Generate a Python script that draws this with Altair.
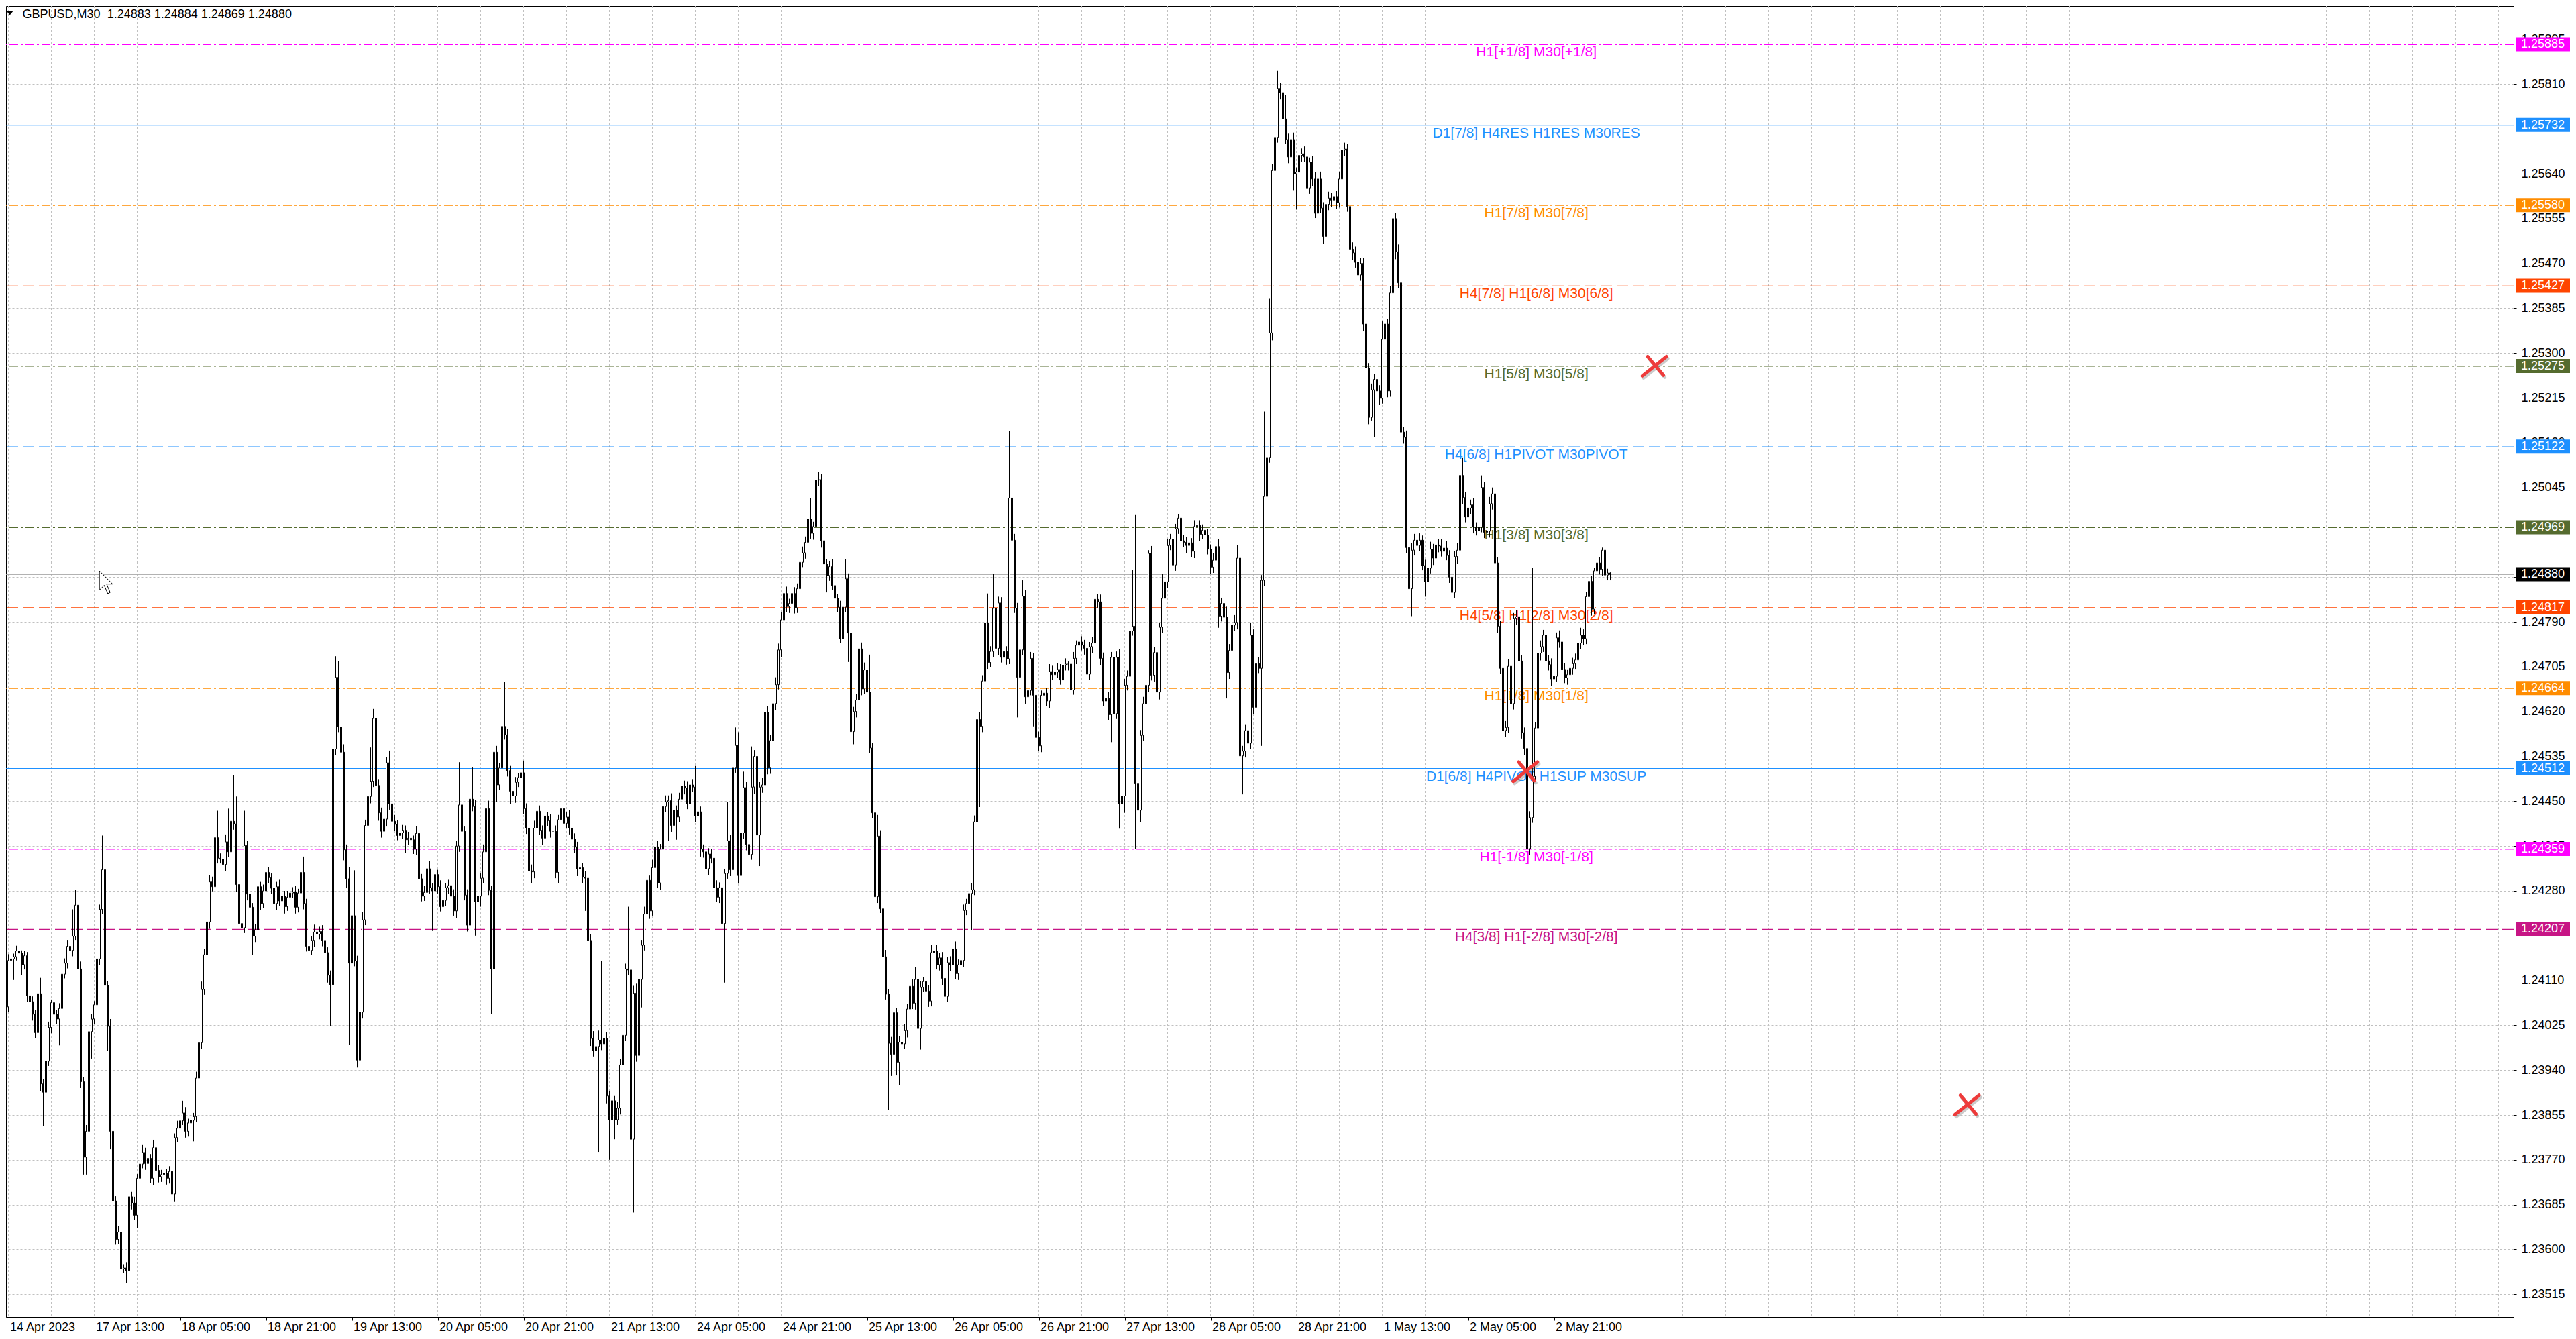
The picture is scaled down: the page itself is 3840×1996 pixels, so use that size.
import json
import altair as alt
import pandas as pd

# ---------------- data (prices in 1e-5 units above 1.20000) ----------------
first_open = 4060

close_a = [
4148, 4151, 4155, 4166, 4162, 4140, 4157, 4081, 4070, 4046,
4011, 4085, 3914, 3898, 3957, 4021, 4068, 4046, 4037, 4057,
4122, 4143, 4175, 4167, 4194, 4253, 4132, 3918, 3775, 3824,
4013, 4037, 4064, 4151, 4245, 4320, 4101, 4023, 3824, 3692,
3619, 3633, 3563, 3565, 3560, 3700, 3688, 3665, 3735, 3762,
3784, 3763, 3773, 3735, 3793, 3750, 3738, 3742, 3745, 3735,
3748, 3705, 3812, 3830, 3844, 3859, 3824, 3840, 3845, 3852,
3925, 3992, 4093, 4159, 4221, 4297, 4288, 4381, 4342, 4340,
4330, 4373, 4354, 4412, 4407, 4292, 4218, 4210, 4366, 4274,
4249, 4194, 4206, 4288, 4256, 4280, 4315, 4305, 4285, 4256,
4288, 4261, 4270, 4250, 4268, 4276, 4278, 4249, 4276, 4315,
4256, 4175, 4167, 4186, 4202, 4198, 4203, 4186, 4163, 4120,
4102, 4549, 4685, 4591, 4543, 4358, 4303, 4143, 4233, 4147,
3959, 4050, 4225, 4404, 4459, 4488, 4607, 4480, 4428, 4393,
4416, 4523, 4445, 4412, 4406, 4385, 4390, 4395, 4377, 4380,
4377, 4359, 4389, 4303]
up_a = [
12, 8, 6, 10, 24, 5, 9, 7, 6, 10,
8, 12, 30, 9, 7, 11, 6, 9, 8, 10,
7, 9, 12, 8, 51, 29, 11, 14, 9, 12,
8, 10, 7, 12, 9, 65, 11, 8, 14, 10,
9, 12, 8, 7, 11, 18, 9, 12, 8, 10,
14, 9, 12, 8, 15, 7, 10, 9, 12, 8,
10, 9, 8, 14, 9, 23, 11, 8, 10, 7,
12, 9, 15, 11, 8, 13, 10, 62, 51, 9,
12, 14, 63, 74, 88, 52, 10, 12, 66, 9,
14, 8, 11, 15, 9, 12, 5, 10, 8, 11,
9, 13, 8, 10, 12, 7, 9, 11, 8, 12,
30, 9, 11, 8, 14, 10, 9, 12, 8, 10,
9, 14, 40, 31, 12, 15, 10, 22, 14, 86,
10, 12, 15, 11, 9, 64, 18, 136, 12, 10,
15, 11, 23, 9, 12, 8, 11, 10, 9, 12,
10, 8, 14, 9]
dn_a = [
10, 8, 40, 7, 12, 20, 9, 11, 8, 12,
10, 9, 14, 64, 12, 9, 11, 8, 10, 50,
12, 8, 10, 9, 11, 7, 14, 12, 33, 33,
9, 51, 10, 8, 11, 9, 20, 47, 34, 12,
10, 9, 14, 8, 24, 10, 12, 9, 24, 11,
8, 12, 10, 9, 13, 8, 11, 10, 9, 12,
10, 27, 15, 9, 11, 8, 12, 10, 9, 40,
11, 9, 12, 10, 8, 13, 9, 11, 10, 8,
77, 12, 10, 9, 11, 14, 55, 86, 10, 12,
9, 35, 11, 10, 12, 9, 14, 10, 11, 8,
12, 9, 10, 13, 8, 11, 9, 12, 10, 9,
11, 10, 70, 9, 12, 8, 10, 11, 9, 14,
79, 15, 12, 10, 14, 20, 18, 155, 12, 10,
14, 34, 12, 10, 9, 13, 11, 10, 15, 12,
9, 14, 11, 10, 12, 9, 13, 11, 25, 10,
12, 9, 11, 10]

close_b = [
4270, 4277, 4322, 4286, 4280, 4311, 4288, 4250, 4262, 4286,
4290, 4270, 4242, 4365, 4443, 4393, 4272, 4215, 4454, 4440,
4259, 4270, 4304, 4354, 4436, 4281, 4132, 4543, 4481, 4513,
4592, 4576, 4508, 4469, 4460, 4486, 4495, 4504, 4436, 4399,
4318, 4316, 4399, 4431, 4395, 4380, 4422, 4413, 4393, 4393,
4315, 4415, 4436, 4408, 4420, 4399, 4378, 4363, 4322, 4324,
4306, 4304, 4186, 4000, 3977, 3985, 3997, 3990, 4000, 3891,
3846, 3882, 3846, 3868, 3950, 4006, 4132, 4130, 3809, 4086,
3968, 4112, 4177, 4236, 4300, 4242, 4324, 4363, 4295, 4359,
4440, 4449, 4451, 4404, 4433, 4420, 4454, 4479, 4475, 4445,
4481, 4477, 4422, 4430, 4359, 4354, 4322, 4350, 4342, 4286,
4268, 4286, 4218, 4313, 4375, 4320, 4513, 4556, 4309, 4390,
4476, 4368, 4349, 4477, 4535, 4386, 4477, 4481, 4619, 4513,
4565, 4635, 4671, 4737, 4794, 4844, 4819, 4825, 4844, 4817,
4853, 4903, 4921, 4941, 4985, 4958, 4971, 5059, 5060, 4944]
up_b = [
9, 12, 10, 14, 8, 11, 9, 12, 10, 8,
11, 9, 13, 10, 81, 12, 9, 11, 14, 60,
12, 10, 9, 14, 11, 15, 9, 18, 12, 10,
73, 84, 11, 9, 12, 10, 8, 13, 23, 10,
9, 12, 14, 10, 11, 9, 13, 8, 12, 10,
11, 9, 12, 27, 10, 13, 9, 11, 10, 12,
9, 11, 10, 12, 14, 30, 18, 150, 40, 12,
10, 14, 9, 12, 11, 15, 10, 118, 12, 14,
18, 12, 10, 14, 11, 9, 15, 52, 12, 10,
41, 12, 10, 14, 11, 9, 12, 41, 10, 13,
9, 11, 40, 12, 10, 9, 13, 11, 10, 12,
14, 10, 12, 9, 74, 11, 13, 34, 25, 12,
30, 11, 10, 77, 12, 19, 10, 14, 75, 12,
11, 10, 14, 12, 15, 10, 13, 9, 11, 12,
10, 14, 12, 11, 13, 40, 9, 12, 15, 11]
dn_b = [
10, 9, 12, 11, 76, 10, 13, 9, 30, 11,
12, 10, 9, 14, 11, 13, 10, 12, 61, 9,
64, 11, 20, 10, 12, 9, 85, 11, 32, 10,
12, 9, 11, 24, 10, 13, 9, 12, 10, 11,
23, 21, 12, 10, 9, 13, 11, 10, 12, 9,
11, 20, 10, 13, 9, 12, 10, 11, 14, 10,
12, 62, 10, 14, 11, 40, 200, 12, 10, 14,
76, 11, 37, 10, 12, 9, 11, 10, 69, 139,
12, 14, 53, 10, 11, 15, 9, 12, 10, 13,
11, 10, 74, 12, 9, 43, 10, 11, 12, 10,
64, 9, 12, 10, 14, 11, 9, 12, 10, 13,
9, 11, 73, 112, 10, 12, 11, 9, 14, 10,
12, 11, 86, 10, 13, 9, 59, 11, 10, 12,
11, 10, 12, 9, 13, 11, 10, 12, 36, 11,
10, 12, 9, 11, 14, 10, 12, 9, 11, 13]

close_c = [
4900, 4878, 4895, 4859, 4835, 4818, 4758, 4818, 4872, 4769,
4582, 4620, 4642, 4739, 4663, 4699, 4657, 4551, 4428, 4269,
4384, 4246, 4155, 4084, 3991, 3970, 4049, 3955, 3993, 3990,
4015, 4056, 4099, 4067, 4112, 4019, 4097, 4108, 4090, 4071,
4163, 4166, 4140, 4153, 4114, 4080, 4144, 4140, 4170,
4123, 4140, 4148, 4243, 4256, 4275, 4282, 4411, 4605, 4592,
4678, 4788, 4713, 4734, 4816, 4740, 4826, 4723, 4734, 4720,
5025, 4945, 4816, 4685, 4737, 4839, 4648, 4660, 4721, 4651,
4571, 4555, 4651, 4655, 4640, 4696, 4690, 4695, 4700, 4680,
4708, 4710, 4710, 4661, 4721, 4746, 4752, 4746, 4740,
4691, 4743, 4750, 4833, 4828, 4721, 4640, 4645, 4614, 4723,
4616, 4723, 4445, 4460, 4670, 4687, 4773, 4782, 4484, 4433,
4575, 4635, 4670, 4920, 4689, 4732, 4657, 4780, 4835, 4866,
4935, 4947, 4898, 4967, 4987, 4944, 4941, 4935, 4940, 4924,
4971, 4973, 4956, 4964, 4955, 4928, 4894, 4907, 4933, 4801,
4825]
up_c = [
12, 9, 11, 14, 10, 8, 12, 9, 37, 10,
13, 9, 11, 10, 12, 14, 90, 71, 10, 12,
40, 11, 9, 13, 10, 12, 14, 9, 11, 10,
12, 9, 11, 13, 24, 10, 12, 9, 14, 11,
14, 10, 12, 9, 11, 13, 10, 12, 9, 14,
10, 12, 11, 9, 35, 13, 12, 10, 14, 11,
12, 56, 10, 65, 19, 12, 11, 14, 10, 127,
15, 12, 10, 170, 30, 11, 14, 12, 10, 13,
11, 9, 12, 10, 14, 11, 9, 12, 10, 13,
11, 5, 10, 12, 9, 14, 11, 10, 13, 9,
12, 48, 10, 14, 11, 9, 12, 10, 13, 11,
15, 10, 12, 11, 14, 107, 212, 12, 10, 13,
11, 6, 14, 10, 12, 9, 46, 11, 13, 10,
12, 9, 8, 14, 11, 10, 13, 9, 12, 26,
10, 11, 74, 12, 9, 13, 10, 14, 11]
dn_c = [
24, 32, 10, 9, 12, 10, 8, 11, 9, 55,
24, 24, 11, 9, 12, 10, 13, 9, 10, 11,
12, 8, 136, 10, 127, 41, 11, 25, 43, 12,
10, 13, 9, 11, 12, 10, 40, 9, 12, 11,
10, 12, 9, 11, 13, 56, 10, 12, 9, 11,
12, 10, 13, 9, 11, 69, 10, 12, 153, 11,
10, 12, 9, 11, 85, 13, 10, 12, 11, 10,
12, 9, 76, 11, 10, 13, 12, 9, 59, 32,
10, 12, 11, 9, 13, 10, 12, 11, 9, 14,
10, 12, 34, 9, 11, 13, 10, 12, 9, 11,
12, 10, 11, 13, 9, 12, 10, 52, 11, 10,
47, 12, 32, 10, 11, 9, 124, 12, 22, 10,
11, 13, 10, 12, 9, 14, 11, 10, 12, 9,
13, 11, 10, 12, 9, 14, 10, 11, 13, 10,
12, 9, 11, 10, 13, 11, 12, 22, 10]

close_d = [
4799, 4694, 4736, 4784, 4789, 4911, 4536, 4545, 4584, 4560,
4765, 4628, 4711, 4702, 4869, 5028, 5102, 5338, 5646,
5709, 5802, 5794, 5744, 5705, 5672, 5705, 5640, 5643, 5675,
5678, 5672, 5613, 5662, 5630, 5565, 5630, 5575, 5521, 5582,
5594, 5590, 5597, 5585, 5630, 5685, 5687, 5578, 5497, 5490,
5472, 5448, 5470, 5355, 5272, 5178, 5230, 5250, 5228, 5214,
5326, 5355, 5228, 5414, 5555, 5492, 5433, 5150, 5140, 4931,
4853, 4926, 4945, 4935, 4945, 4897, 4866, 4892, 4928, 4911,
4936, 4934, 4924, 4930, 4916, 4875, 4846, 4914, 4926, 5068,
5026, 4989, 5006, 5012, 4970, 4963, 4970, 5045, 4960, 4962,
5014, 5033, 4902, 4782, 4702, 4584, 4590, 4706, 4635, 4797,
4800, 4716, 4580, 4550, 4360, 4419, 4497, 4589, 4731, 4743,
4765, 4716, 4709, 4682, 4687, 4760, 4752, 4700, 4684, 4690,
4702, 4711, 4718, 4750, 4765, 4758, 4838, 4867, 4814, 4887,
4902, 4890, 4926, 4879, 4883, 4880]
up_d = [
10, 20, 12, 9, 14, 25, 11, 10, 12, 30,
24, 11, 13, 12, 10, 161, 14, 66, 12,
17, 33, 10, 12, 46, 11, 50, 13, 9, 12,
10, 14, 11, 9, 12, 13, 10, 14, 11, 9,
12, 10, 13, 11, 14, 9, 12, 10, 11, 13,
12, 14, 10, 11, 13, 9, 12, 10, 14, 11,
34, 12, 10, 13, 39, 11, 14, 12, 10, 13,
11, 14, 12, 10, 13, 9, 11, 12, 14, 10,
12, 11, 13, 9, 14, 10, 12, 11, 13, 19,
34, 11, 12, 10, 13, 9, 12, 23, 11, 10,
13, 12, 71, 11, 10, 14, 12, 13, 11, 10,
12, 14, 11, 10, 13, 12, 395, 11, 14, 12,
10, 13, 11, 12, 9, 10, 14, 11, 12, 10,
13, 11, 12, 10, 14, 11, 9, 12, 10, 5,
12, 11, 5, 10, 8, 1]
dn_d = [
19, 49, 12, 10, 11, 13, 73, 73, 12, 60,
11, 13, 10, 9, 147, 11, 12, 10, 14,
12, 10, 13, 11, 9, 12, 10, 31, 68, 11,
12, 10, 25, 11, 13, 9, 12, 10, 14, 19,
11, 13, 10, 12, 9, 14, 11, 10, 12, 13,
10, 12, 11, 14, 10, 13, 6, 89, 11, 12,
10, 13, 12, 11, 9, 14, 10, 53, 12, 11,
13, 52, 10, 12, 11, 9, 28, 12, 10, 13,
11, 12, 10, 13, 9, 11, 12, 10, 14, 11,
12, 10, 13, 11, 12, 9, 14, 10, 11, 102,
12, 11, 10, 13, 11, 48, 12, 10, 13, 11,
12, 10, 11, 13, 5, 12, 10, 11, 12, 14,
10, 12, 11, 13, 12, 10, 11, 12, 10, 13,
11, 12, 10, 13, 11, 12, 10, 11, 12, 10,
11, 10, 12, 9, 10, 11]

# Murrey-math style level lines
level_prices = [1.25885, 1.25732, 1.25580, 1.25427, 1.25275, 1.25122,
                1.24969, 1.24817, 1.24664, 1.24512, 1.24359, 1.24207]
level_colors = ["#FF00FF", "#1E90FF", "#FF8C00", "#FF4500", "#556B2F", "#1E90FF",
                "#556B2F", "#FF4500", "#FF8C00", "#1E90FF", "#FF00FF", "#C71585"]
level_styles = ["dashdot", "solid", "dashdot", "dash", "dashdot", "dash",
                "dashdot", "dash", "dashdot", "solid", "dashdot", "dash"]
level_texts = ["H1[+1/8] M30[+1/8]", "D1[7/8] H4RES H1RES M30RES", "H1[7/8] M30[7/8]",
               "H4[7/8] H1[6/8] M30[6/8]", "H1[5/8] M30[5/8]", "H4[6/8] H1PIVOT M30PIVOT",
               "H1[3/8] M30[3/8]", "H4[5/8] H1[2/8] M30[2/8]", "H1[1/8] M30[1/8]",
               "D1[6/8] H4PIVOT H1SUP M30SUP", "H1[-1/8] M30[-1/8]", "H4[3/8] H1[-2/8] M30[-2/8]"]
label_anchor_index = 569.4

bid_price = 1.24880
bid_color = "#000000"

stop_marks_index = [613.4, 729.9, 565.3]
stop_marks_price = [1.25275, 1.23874, 1.24506]

x_tick_labels = ["14 Apr 2023", "17 Apr 13:00", "18 Apr 05:00", "18 Apr 21:00", "19 Apr 13:00",
                 "20 Apr 05:00", "20 Apr 21:00", "21 Apr 13:00", "24 Apr 05:00", "24 Apr 21:00",
                 "25 Apr 13:00", "26 Apr 05:00", "26 Apr 21:00", "27 Apr 13:00", "28 Apr 05:00",
                 "28 Apr 21:00", "1 May 13:00", "2 May 05:00", "2 May 21:00"]
y_tick_labels = ["1.23515", "1.23600", "1.23685", "1.23770", "1.23855", "1.23940", "1.24025",
                 "1.24110", "1.24195", "1.24280", "1.24365", "1.24450", "1.24535", "1.24620",
                 "1.24705", "1.24790", "1.24875", "1.24960", "1.25045", "1.25130", "1.25215",
                 "1.25300", "1.25385", "1.25470", "1.25555", "1.25640", "1.25725", "1.25810",
                 "1.25895"]
# tick labels that sit fully under a price box in the terminal
y_tick_hidden = ["1.25725", "1.24960", "1.24875", "1.24195"]
header_text = "GBPUSD,M30\u00a0 1.24883 1.24884 1.24869 1.24880"

# ---------------- build tables ----------------
BASE, UNIT = 1.2, 1e5
closes = close_a + close_b + close_c + close_d
ups = up_a + up_b + up_c + up_d
dns = dn_a + dn_b + dn_c + dn_d
n = min(len(closes), len(ups), len(dns))

rows = []
prev = first_open
for i in range(n):
    c = closes[i]
    o = prev
    hi = max(o, c) + ups[i]
    lo = min(o, c) - dns[i]
    rows.append({"i": i, "x0": i - 0.25, "x1": i + 0.25,
                 "o": BASE + o / UNIT, "c": BASE + c / UNIT,
                 "h": BASE + hi / UNIT, "l": BASE + lo / UNIT,
                 "fill": "#ffffff" if c > o else "#000000"})
    prev = c
candles = pd.DataFrame(rows)

levels = pd.DataFrame({"p": level_prices, "col": level_colors, "style": level_styles,
                       "txt": level_texts, "xi": [label_anchor_index] * len(level_prices)})
boxes = pd.DataFrame({"p": level_prices + [bid_price], "col": level_colors + [bid_color],
                      "lab": ["%.5f" % v for v in level_prices + [bid_price]]})
stops = pd.DataFrame({"i": stop_marks_index, "p": stop_marks_price})
vgrid = pd.DataFrame({"g": list(range(0, 929, 16))})
header = pd.DataFrame({"t": [header_text]})
bid = pd.DataFrame({"p": [bid_price]})

W, H = 3738, 1954
xs = alt.Scale(domain=[-0.875, -0.875 + W / 4.0], nice=False, zero=False)
ys = alt.Scale(domain=[1.234721, 1.259581], nice=False, zero=False)
FONT = "Liberation Sans"
GRID = "#c0c0c0"

x_expr = json.dumps(x_tick_labels) + "[round(datum.value / 32)]"
y_expr = ("indexof(" + json.dumps(y_tick_hidden) + ", format(datum.value, '.5f')) >= 0"
          " ? '' : format(datum.value, '.5f')")
x_axis = alt.Axis(values=[32 * k for k in range(len(x_tick_labels))], labelExpr=x_expr,
                  grid=False, tickSize=5, tickColor="black", domainColor="black",
                  labelAlign="left", labelBaseline="top", labelPadding=1, labelOffset=2,
                  labelFontSize=18, labelFont=FONT, labelColor="black", labelFlush=False,
                  labelOverlap=False, labelBound=False, title="")
y_axis = alt.Axis(orient="right", values=[float(v) for v in y_tick_labels], labelExpr=y_expr,
                  grid=True, gridColor=GRID, gridDash=[3, 3], gridWidth=1,
                  tickSize=4, tickColor="black", domainColor="black", labelPadding=7,
                  labelFontSize=18, labelFont=FONT, labelColor="black", labelFlush=False,
                  labelOverlap=False, title="")


def X(field):
    return alt.X(field, scale=xs, axis=x_axis)


def Y(field):
    return alt.Y(field, scale=ys, axis=y_axis)


grid_layer = alt.Chart(vgrid).mark_rule(color=GRID, strokeDash=[3, 3], strokeWidth=1).encode(
    x=X("g:Q"))

wicks = alt.Chart(candles).mark_rule(color="black", strokeWidth=1).encode(
    x=X("i:Q"), y=Y("l:Q"), y2="h:Q")

bodies = alt.Chart(candles).mark_rect(stroke="black", strokeWidth=1).encode(
    x=X("x0:Q"), x2="x1:Q", y=Y("o:Q"), y2="c:Q",
    fill=alt.Fill("fill:N", scale=None))

dash_map = {"solid": None, "dash": [17, 7], "dashdot": [13, 4, 3, 4]}
line_layers = []
for style, dash in dash_map.items():
    kw = {"strokeWidth": 1.3}
    if dash is not None:
        kw["strokeDash"] = dash
    line_layers.append(
        alt.Chart(levels).transform_filter(alt.datum.style == style).mark_rule(**kw).encode(
            y=Y("p:Q"), color=alt.Color("col:N", scale=None)))

bid_line = alt.Chart(bid).mark_rule(color="#a8a8a8", strokeWidth=1).encode(y=Y("p:Q"))

level_labels = alt.Chart(levels).mark_text(align="center", baseline="top", dy=1,
                                           fontSize=21, font=FONT).encode(
    x=X("xi:Q"), y=Y("p:Q"), text="txt:N", color=alt.Color("col:N", scale=None))

xpath = "M-1,0.8L1,-0.8M-0.55,-0.8L0.75,0.75"
stop_shadow = alt.Chart(stops).mark_point(shape=xpath, filled=False, stroke="#555555",
                                          strokeWidth=5, size=1300, opacity=0.3,
                                          strokeCap="round", xOffset=2, yOffset=3).encode(
    x=X("i:Q"), y=Y("p:Q"))
stop_x = alt.Chart(stops).mark_point(shape=xpath, filled=False, stroke="#ee3b3b",
                                     strokeWidth=5, size=1300, opacity=1,
                                     strokeCap="round").encode(
    x=X("i:Q"), y=Y("p:Q"))

box_rects = alt.Chart(boxes).mark_rect(yOffset=-11, y2Offset=10).encode(
    x=alt.value(W + 3), x2=alt.value(W + 84), y=Y("p:Q"), y2="p:Q",
    fill=alt.Fill("col:N", scale=None))
box_text = alt.Chart(boxes).mark_text(align="center", baseline="middle", fontSize=18,
                                      font=FONT, color="white").encode(
    x=alt.value(W + 43.5), y=Y("p:Q"), text="lab:N")

head = alt.Chart(header).mark_text(align="left", baseline="alphabetic", fontSize=18,
                                   font=FONT, color="black").encode(
    x=alt.value(24.6), y=alt.value(18), text="t:N")
head_tri = alt.Chart(header).mark_point(shape="M-1,-0.6L1,-0.6L0,0.6Z", filled=True,
                                        color="black", size=100, opacity=1).encode(
    x=alt.value(5.7), y=alt.value(10.5))

cursor_path = ("M-0.579,-1L-0.579,0.684L-0.158,0.263L0.158,1L0.368,0.895"
               "L0.053,0.158L0.579,0.158Z")
cursor = alt.Chart(header).mark_point(shape=cursor_path, filled=True, fill="white",
                                      stroke="black", strokeWidth=1, size=1156,
                                      opacity=1).encode(
    x=alt.value(149), y=alt.value(859))

chart = alt.layer(
    grid_layer, *line_layers, bid_line, level_labels, wicks, bodies,
    stop_shadow, stop_x, box_rects, box_text, head, head_tri, cursor
).properties(width=W, height=H, padding=0, background="white").configure_view(
    stroke="black", strokeWidth=1)

chart.save("out.html", embed_options={"renderer": "svg", "actions": False})
